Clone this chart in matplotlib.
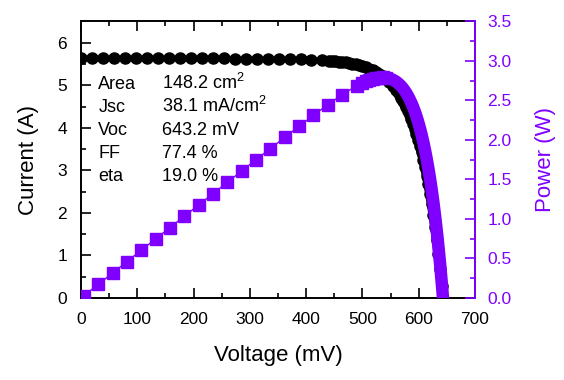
import matplotlib
matplotlib.use('Agg')
import matplotlib.pyplot as plt
from matplotlib.ticker import MultipleLocator

plt.rcParams['font.family'] = 'Liberation Sans'
plt.rcParams['mathtext.fontset'] = 'custom'
plt.rcParams['mathtext.rm'] = 'Liberation Sans'

PURPLE = '#8000ff'

# current, flat part (mV, A)
v_cur = [0, 19.5, 39, 58.5, 78, 97.5, 117, 136.5, 156, 175.5, 195, 214.5,
         234, 253.5, 273, 292.5, 312, 331.5, 351, 370.5, 390, 409.5, 429]
i_cur = [5.650, 5.648, 5.647, 5.645, 5.644, 5.642, 5.641, 5.639, 5.638,
         5.636, 5.634, 5.633, 5.631, 5.630, 5.628, 5.627, 5.625, 5.621,
         5.618, 5.613, 5.608, 5.599, 5.588]

# power, linear part (mV, W)
v_pow = [5, 30.5, 56, 81.5, 107, 132.5, 158, 183.5, 209, 234.5, 260, 285.5,
         311, 336.5, 362, 387.5, 413, 438.5, 464, 489.5]
p_pow = [0.028, 0.172, 0.316, 0.460, 0.604, 0.747, 0.891, 1.034, 1.177,
         1.320, 1.464, 1.607, 1.749, 1.891, 2.033, 2.174, 2.312, 2.447,
         2.573, 2.685]

# knee region, dense sampling for both series
v_knee = [440, 446, 452, 458, 464, 470, 476, 482, 488, 494, 500, 506, 512,
          518, 524, 530, 536, 542, 548, 554, 560, 563, 566, 569, 572, 575,
          578, 581, 584, 587, 590, 593, 596, 599, 602, 605, 608, 611, 614,
          617, 620, 623, 626, 629, 632, 635, 638, 641, 644]
i_knee = [5.578, 5.571, 5.564, 5.556, 5.546, 5.535, 5.522, 5.507, 5.490,
          5.470, 5.447, 5.420, 5.390, 5.354, 5.313, 5.265, 5.210, 5.146,
          5.073, 4.986, 4.887, 4.832, 4.772, 4.708, 4.639, 4.565, 4.484,
          4.398, 4.305, 4.205, 4.098, 3.982, 3.856, 3.721, 3.576, 3.421,
          3.253, 3.072, 2.878, 2.668, 2.443, 2.200, 1.939, 1.657, 1.354,
          1.023, 0.672, 0.293, -0.115]
p_knee = [2.454, 2.485, 2.515, 2.545, 2.573, 2.601, 2.628, 2.654, 2.679,
          2.702, 2.724, 2.743, 2.760, 2.773, 2.784, 2.790, 2.793, 2.789,
          2.780, 2.762, 2.737, 2.720, 2.701, 2.679, 2.654, 2.625, 2.592,
          2.555, 2.514, 2.468, 2.418, 2.361, 2.298, 2.229, 2.153, 2.070,
          1.978, 1.877, 1.767, 1.646, 1.515, 1.371, 1.214, 1.042, 0.856,
          0.650, 0.429, 0.188, -0.074]

labels = ['Area', 'Jsc', 'Voc', 'FF', 'eta']
values = [r'148.2 cm$^2$', r'38.1 mA/cm$^2$', '643.2 mV', '77.4 %', '19.0 %']

fig = plt.figure(figsize=(5.64, 3.80), dpi=100)
ax = fig.add_axes([0.1436, 0.2158, 0.6986, 0.7279])
ax2 = ax.twinx()

# current
ax.plot(v_cur + v_knee, i_cur + i_knee, 'o', color='black', ms=8, mec='black')
ax.plot(v_knee, i_knee, '-', color='black', lw=7, solid_capstyle='round')

# power: squares where they are still apart, thick band through the knee
k = v_knee.index(500)
pv_knee, pp_knee = v_knee[k:], p_knee[k:]
ax2.plot(v_pow + pv_knee, p_pow + pp_knee, '-', color=PURPLE, lw=1)
ax2.plot(v_pow + pv_knee[:8], p_pow + pp_knee[:8], 's', color=PURPLE,
         ms=8, mec=PURPLE)
ax2.plot(pv_knee, pp_knee, '-', color=PURPLE, lw=9, solid_capstyle='butt')

ax.set_xlim(0, 700)
ax.set_ylim(0, 6.5)
ax2.set_ylim(0, 3.5)

ax.xaxis.set_major_locator(MultipleLocator(100))
ax.xaxis.set_minor_locator(MultipleLocator(50))
ax.yaxis.set_major_locator(MultipleLocator(1))
ax.yaxis.set_minor_locator(MultipleLocator(0.5))
ax2.yaxis.set_major_locator(MultipleLocator(0.5))
ax2.yaxis.set_minor_locator(MultipleLocator(0.25))
ax2.yaxis.set_major_formatter(plt.FormatStrFormatter('%.1f'))

ax.tick_params(which='both', direction='in', top=True, right=False,
               labelsize=12.5, width=1.2, colors='black')
ax.tick_params(which='major', length=7.5, pad=10)
ax.tick_params(which='minor', length=3.8)
ax2.tick_params(which='both', direction='in', labelsize=12.5, width=1.2,
                colors=PURPLE)
ax2.tick_params(which='major', length=7.5, pad=9)
ax2.tick_params(which='minor', length=3.8)

for s in ax.spines.values():
    s.set_linewidth(1.4)
for name, s in ax2.spines.items():
    s.set_linewidth(1.4)
    if name == 'right':
        s.set_color(PURPLE)
    else:
        s.set_visible(False)

ax.set_xlabel('Voltage (mV)', fontsize=16, labelpad=13)
ax.set_ylabel('Current (A)', fontsize=16, labelpad=13)
ax2.set_ylabel('Power (W)', fontsize=16, color=PURPLE, labelpad=17)

ybase = [4.905, 4.369, 3.833, 3.297, 2.761]
for lab, val, yb in zip(labels, values, ybase):
    ax.text(30.8, yb, lab, fontsize=13, va='baseline', ha='left')
    ax.text(143.3, yb, val, fontsize=13, va='baseline', ha='left')

fig.savefig('out.png', dpi=100)
